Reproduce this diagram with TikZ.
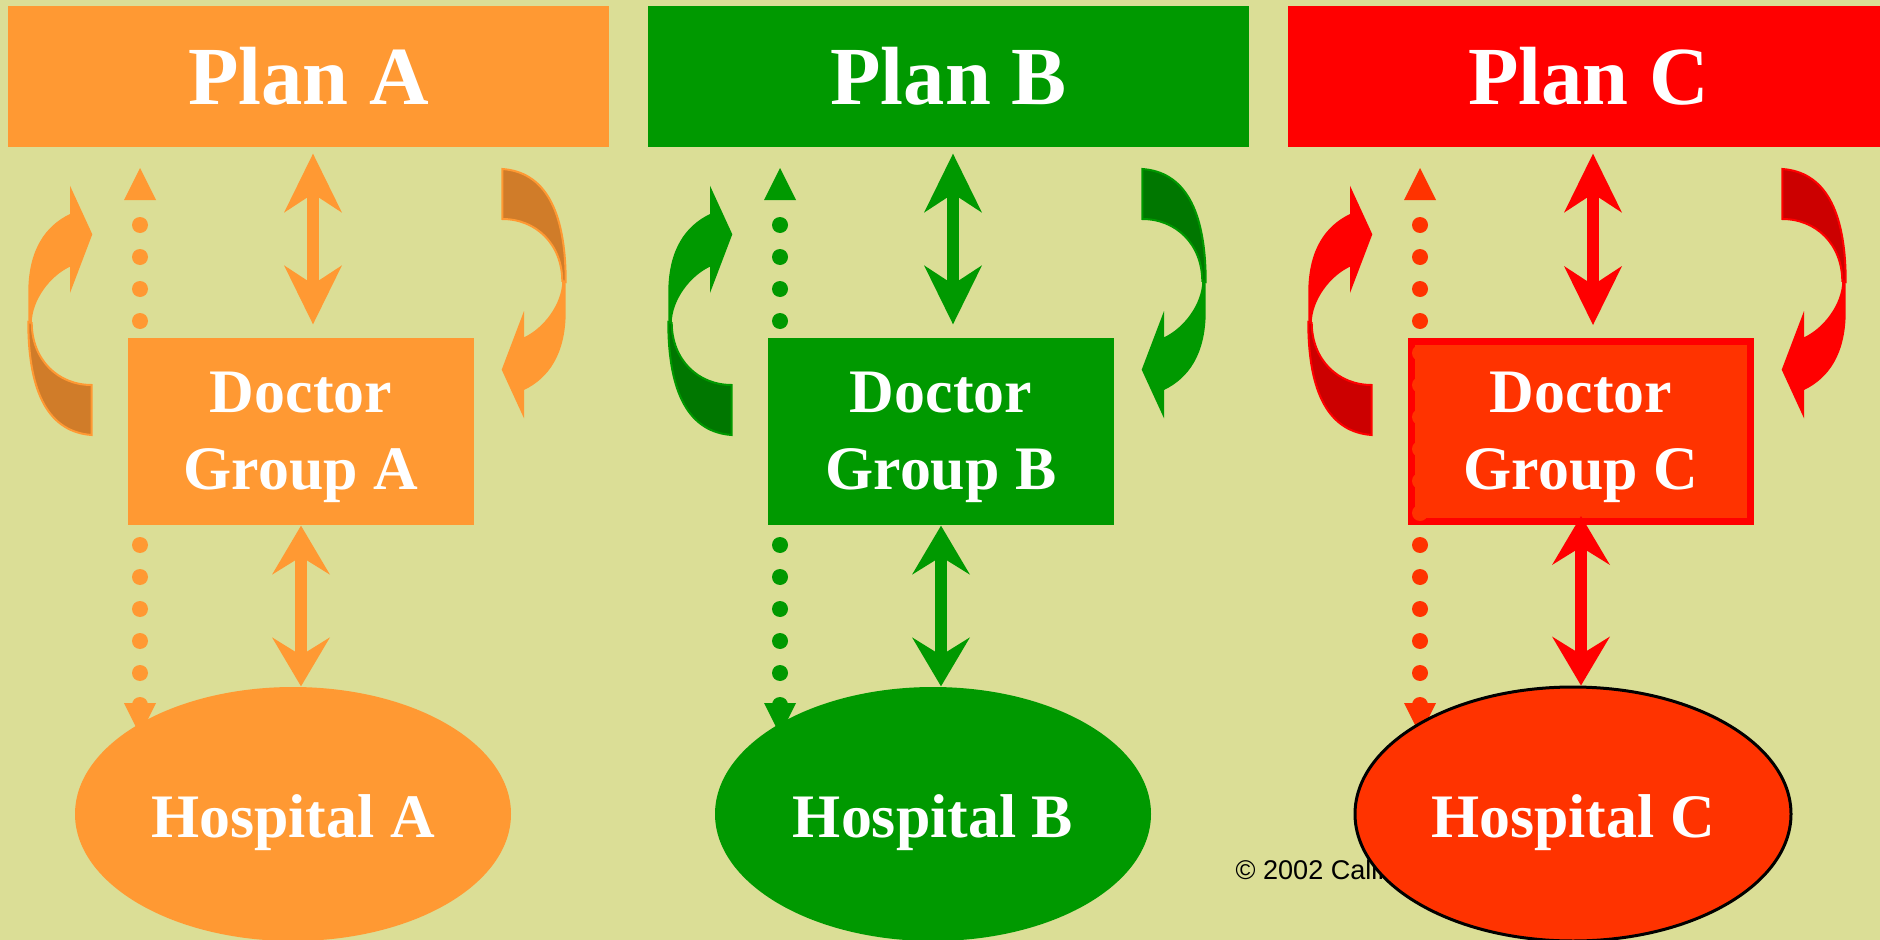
\documentclass[tikz,border=0pt]{standalone}
\usepackage{fontspec}
\setmainfont{Liberation Serif}
\newfontfamily\copyfont{Liberation Sans}
\usetikzlibrary{arrows.meta,shapes.geometric}
\definecolor{bgolive}{HTML}{DBDE96}
\definecolor{planorange}{HTML}{FF9933}
\definecolor{darkorange}{HTML}{D07C29}
\definecolor{plangreen}{HTML}{009900}
\definecolor{darkgreen}{HTML}{007700}
\definecolor{planred}{HTML}{FF0000}
\definecolor{darkred}{HTML}{CC0000}
\definecolor{hotred}{HTML}{FF3300}
% turning arrow (drawn as the left one, turned for the right one)
\newcommand{\turnarrow}[3]{%
  \begin{scope}[#1]
    \fill[#3,draw=#2,line width=0.2mm] (28.3,322) .. controls (28.3,395) and (50,432) .. (91.7,435)
      -- (91.7,385) .. controls (58,385) and (32,360) .. (31.7,323) -- cycle;
    \fill[#2] (70,214) .. controls (45,226) and (29,250) .. (28.3,290) -- (28.3,322)
      -- (31.7,323) .. controls (32,300) and (50,276) .. (70,266.7)
      -- (70,293) -- (92.3,234.3) -- (70,185.7) -- cycle;
  \end{scope}}

\begin{document}
\begin{tikzpicture}[x=0.1mm,y=-0.1mm,
  plan/.style={rectangle,minimum width=60.1mm,minimum height=14.1mm,inner sep=0pt,
    text=white,font=\fontsize{23.5}{28}\selectfont\bfseries},
  doctor/.style={rectangle,minimum width=34.6mm,minimum height=18.7mm,inner sep=0pt,
    text=white,align=center,font=\fontsize{17.6}{21.9}\selectfont\bfseries},
  hospital/.style={ellipse,minimum width=43.6mm,minimum height=25.4mm,inner sep=0pt,
    text height=4.6mm,text depth=0mm,text=white,font=\fontsize{17.6}{21.9}\selectfont\bfseries},
  dbl/.style={line width=1.2mm,
    {Stealth[length=5.9mm,width=5.8mm,inset=1.9mm,line width=0pt]}-{Stealth[length=5.9mm,width=5.8mm,inset=1.9mm,line width=0pt]}},
  dbllow/.style={line width=1.2mm,
    {Stealth[length=4.9mm,width=5.8mm,inset=1.8mm,line width=0pt]}-{Stealth[length=4.9mm,width=5.8mm,inset=1.8mm,line width=0pt]}},
  dotline/.style={line width=1.6mm,line cap=round,dash pattern=on 0mm off 3.2mm}]
\useasboundingbox (0,0) rectangle (1880,940);
\fill[bgolive] (0,0) rectangle (1880,940);

% Plan A
\node[plan,fill=planorange] (planA) at (308.5,76.5) {Plan A};
\turnarrow{shift={(0,0)}}{planorange}{darkorange}
\turnarrow{rotate around={180:(297,302)}}{planorange}{darkorange}
\coordinate (dotA) at (140,225);
\fill[planorange] (dotA) ++(0,-57) -- ++(16,32) -- ++(-32,0) -- cycle;
\draw[dotline,planorange] (dotA) -- ++(0,480);
\fill[planorange] (dotA) ++(-16,478) -- ++(32,0) -- ++(-16,32) -- cycle;
\node[doctor,fill=planorange] (docA) at (301,431.5) {\rule{0pt}{5.3mm}Doctor\\Group A};
\draw[dbl,planorange,shorten <=0.6mm,shorten >=1.3mm] ([xshift=1.2mm]docA.north |- planA.south) -- ([xshift=1.2mm]docA.north);
\node[hospital,fill=planorange] (hospA) at (293,814) {Hospital A};
\draw[dbllow,planorange] (docA.south) -- (docA.south |- hospA.north);

% Plan B
\node[plan,fill=plangreen] (planB) at (948.5,76.5) {Plan B};
\turnarrow{shift={(640,0)}}{plangreen}{darkgreen}
\turnarrow{rotate around={180:(617,302)}}{plangreen}{darkgreen}
\coordinate (dotB) at (780,225);
\fill[plangreen] (dotB) ++(0,-57) -- ++(16,32) -- ++(-32,0) -- cycle;
\draw[dotline,plangreen] (dotB) -- ++(0,480);
\fill[plangreen] (dotB) ++(-16,478) -- ++(32,0) -- ++(-16,32) -- cycle;
\node[doctor,fill=plangreen] (docB) at (941,431.5) {\rule{0pt}{5.3mm}Doctor\\Group B};
\draw[dbl,plangreen,shorten <=0.6mm,shorten >=1.3mm] ([xshift=1.2mm]docB.north |- planB.south) -- ([xshift=1.2mm]docB.north);
\node[hospital,fill=plangreen] (hospB) at (933,814) {Hospital B};
\draw[dbllow,plangreen] (docB.south) -- (docB.south |- hospB.north);

% Plan C
\node[plan,fill=planred] (planC) at (1588.5,76.5) {Plan C};
\turnarrow{shift={(1280,0)}}{planred}{darkred}
\turnarrow{rotate around={180:(937,302)}}{planred}{darkred}
\node[doctor,fill=hotred,draw=planred,line width=0.7mm,minimum width=33.9mm,minimum height=18mm] (docC) at (1581,431.5) {\rule{0pt}{5.3mm}Doctor\\Group C};
\coordinate (dotC) at (1420,225);
\fill[hotred] (dotC) ++(0,-57) -- ++(16,32) -- ++(-32,0) -- cycle;
\draw[dotline,hotred] (dotC) -- ++(0,480);
\fill[hotred] (dotC) ++(-16,478) -- ++(32,0) -- ++(-16,32) -- cycle;
\draw[dbl,planred,shorten <=0.6mm,shorten >=1.3mm] ([xshift=1.2mm]docC.north |- planC.south) -- ([xshift=1.2mm]docC.north);
\node[anchor=base west,inner sep=0pt,font=\copyfont\fontsize{7.7}{9}\selectfont] (copy) at (1235,879) {© 2002 California};
\node[hospital,fill=hotred,draw=black,line width=0.3mm] (hospC) at (1573,814) {Hospital C};
\draw[dbllow,planred,shorten <=-0.9mm] (docC.south) -- (docC.south |- hospC.north);
\end{tikzpicture}
\end{document}
